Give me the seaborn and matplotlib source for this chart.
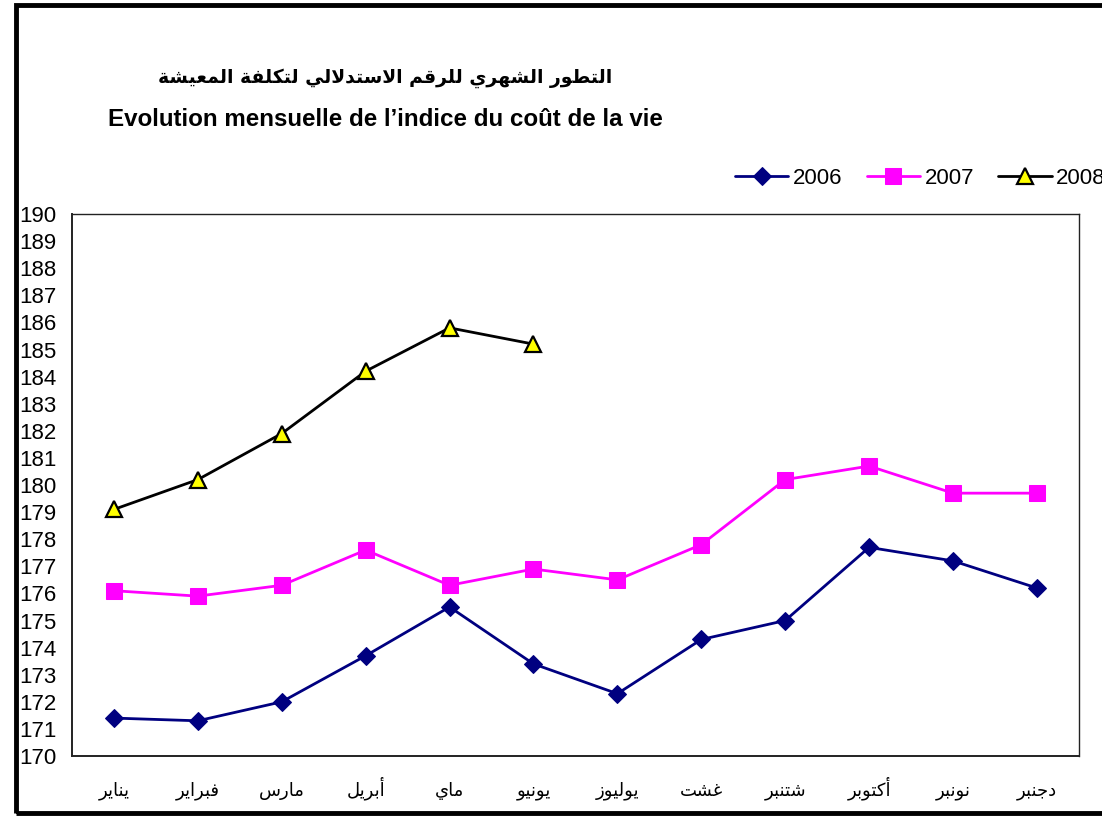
import matplotlib
matplotlib.use("Agg")
import matplotlib.pyplot as plt
import matplotlib.patches as mpatches
import seaborn as sns
import pandas as pd

# ── Data ──────────────────────────────────────────────────────────
months = ["يناير", "فبراير", "مارس", "أبريل", "ماي", "يونيو",
          "يوليوز", "غشت", "شتنبر", "أكتوبر", "نونبر", "دجنبر"]
idx_2006 = [171.4, 171.3, 172.0, 173.7, 175.5, 173.4, 172.3, 174.3, 175.0, 177.7, 177.2, 176.2]
idx_2007 = [176.1, 175.9, 176.3, 177.6, 176.3, 176.9, 176.5, 177.8, 180.2, 180.7, 179.7, 179.7]
idx_2008 = [179.1, 180.2, 181.9, 184.2, 185.8, 185.2]
title_ar = "التطور الشهري للرقم الاستدلالي لتكلفة المعيشة"
title_fr = "Evolution mensuelle de l’indice du coût de la vie"

# ── Arabic shaping (matplotlib has no bidi / joining) ────────────
# letter -> (isolated form code point, joining type)
FORMS = {
    "ء": (0xFE80, "U"), "آ": (0xFE81, "R"), "أ": (0xFE83, "R"), "ؤ": (0xFE85, "R"),
    "إ": (0xFE87, "R"), "ئ": (0xFE89, "D"), "ا": (0xFE8D, "R"), "ب": (0xFE8F, "D"),
    "ة": (0xFE93, "R"), "ت": (0xFE95, "D"), "ث": (0xFE99, "D"), "ج": (0xFE9D, "D"),
    "ح": (0xFEA1, "D"), "خ": (0xFEA5, "D"), "د": (0xFEA9, "R"), "ذ": (0xFEAB, "R"),
    "ر": (0xFEAD, "R"), "ز": (0xFEAF, "R"), "س": (0xFEB1, "D"), "ش": (0xFEB5, "D"),
    "ص": (0xFEB9, "D"), "ض": (0xFEBD, "D"), "ط": (0xFEC1, "D"), "ظ": (0xFEC5, "D"),
    "ع": (0xFEC9, "D"), "غ": (0xFECD, "D"), "ف": (0xFED1, "D"), "ق": (0xFED5, "D"),
    "ك": (0xFED9, "D"), "ل": (0xFEDD, "D"), "م": (0xFEE1, "D"), "ن": (0xFEE5, "D"),
    "ه": (0xFEE9, "D"), "و": (0xFEED, "R"), "ى": (0xFEEF, "R"), "ي": (0xFEF1, "D"),
}
LAMALEF = {"آ": 0xFEF5, "أ": 0xFEF7, "إ": 0xFEF9, "ا": 0xFEFB}


def shape_ar(text):
    out = []
    i = 0
    n = len(text)
    while i < n:
        c = text[i]
        if c not in FORMS:
            out.append(c)
            i += 1
            continue
        prev = text[i - 1] if i > 0 else None
        joins_prev = prev in FORMS and FORMS[prev][1] == "D"
        if c == "ل" and i + 1 < n and text[i + 1] in LAMALEF:
            out.append(chr(LAMALEF[text[i + 1]] + (1 if joins_prev else 0)))
            i += 2
            continue
        nxt = text[i + 1] if i + 1 < n else None
        base, jt = FORMS[c]
        joins_next = jt == "D" and nxt in FORMS and FORMS[nxt][1] != "U"
        if jt == "U":
            form = base
        elif jt == "R":
            form = base + (1 if joins_prev else 0)
        else:
            if joins_prev and joins_next:
                form = base + 3
            elif joins_prev:
                form = base + 1
            elif joins_next:
                form = base + 2
            else:
                form = base
        out.append(chr(form))
        i += 1
    return "".join(reversed(out))


# ── Plot ──────────────────────────────────────────────────────────
sns.set_style("white")
plt.rcParams["font.family"] = ["Liberation Sans", "DejaVu Sans"]
plt.rcParams["text.color"] = "black"
plt.rcParams["xtick.color"] = "black"
plt.rcParams["ytick.color"] = "black"

fig = plt.figure(figsize=(11.02, 8.16), dpi=100)
ax = fig.add_axes([0.0653, 0.0735, 0.9137, 0.6642])

df06 = pd.DataFrame({"x": range(len(idx_2006)), "v": idx_2006})
df07 = pd.DataFrame({"x": range(len(idx_2007)), "v": idx_2007})
df08 = pd.DataFrame({"x": range(len(idx_2008)), "v": idx_2008})

sns.lineplot(data=df06, x="x", y="v", ax=ax, color="#000080", lw=2.0,
             marker="D", markersize=9, markeredgecolor="#000080", label="2006")
sns.lineplot(data=df07, x="x", y="v", ax=ax, color="#FF00FF", lw=2.0,
             marker="s", markersize=11.5, markeredgecolor="#FF00FF", label="2007")
sns.lineplot(data=df08, x="x", y="v", ax=ax, color="black", lw=2.0,
             marker="^", markersize=11, markerfacecolor="#FFFF00",
             markeredgecolor="black", markeredgewidth=1.6, label="2008")

ax.set_xlim(-0.5, len(months) - 0.5)
ax.set_ylim(170, 190)
ax.set_yticks(range(170, 191))
ax.set_xticks(range(len(months)))
ax.set_xticklabels([shape_ar(m) for m in months], family="DejaVu Sans",
                   fontsize=13, va="baseline")
ax.set_xticks([i - 0.5 for i in range(len(months) + 1)], minor=True)
ax.tick_params(axis="x", which="major", length=0, pad=28.5)
ax.tick_params(axis="x", which="minor", length=8, width=1, direction="out", color="#333333")
ax.tick_params(axis="y", length=6, width=1, direction="out", pad=5, labelsize=16, color="#333333")
ax.set_xlabel("")
ax.set_ylabel("")

for side in ["left", "bottom"]:
    ax.spines[side].set_color("#222222")
    ax.spines[side].set_linewidth(1.4)
for side in ["top", "right"]:
    ax.spines[side].set_color("#222222")
    ax.spines[side].set_linewidth(1.0)

leg = ax.legend(loc="center left", bbox_to_anchor=(735 / 1102, 1 - 178 / 816),
                bbox_transform=fig.transFigure, ncol=3, frameon=False, fontsize=16,
                handlelength=2.4, handletextpad=0.2, columnspacing=1.1,
                borderaxespad=0, borderpad=0)

fig.text(385 / 1102, 1 - 78 / 816, shape_ar(title_ar), ha="center", va="center",
         family="DejaVu Sans", fontweight="bold", fontsize=13.5)
fig.text(385 / 1102, 1 - 120 / 816, title_fr, ha="center", va="center",
         fontweight="bold", fontsize=17.4)

# outer chart frame (right edge cut off like the reference)
frame = mpatches.Rectangle((16 / 1102, 3 / 816), 1.2, 1 - 8 / 816,
                           transform=fig.transFigure, fill=False,
                           edgecolor="black", linewidth=3.5, clip_on=False)
fig.patches.append(frame)

plt.savefig("out.png", dpi=100)
